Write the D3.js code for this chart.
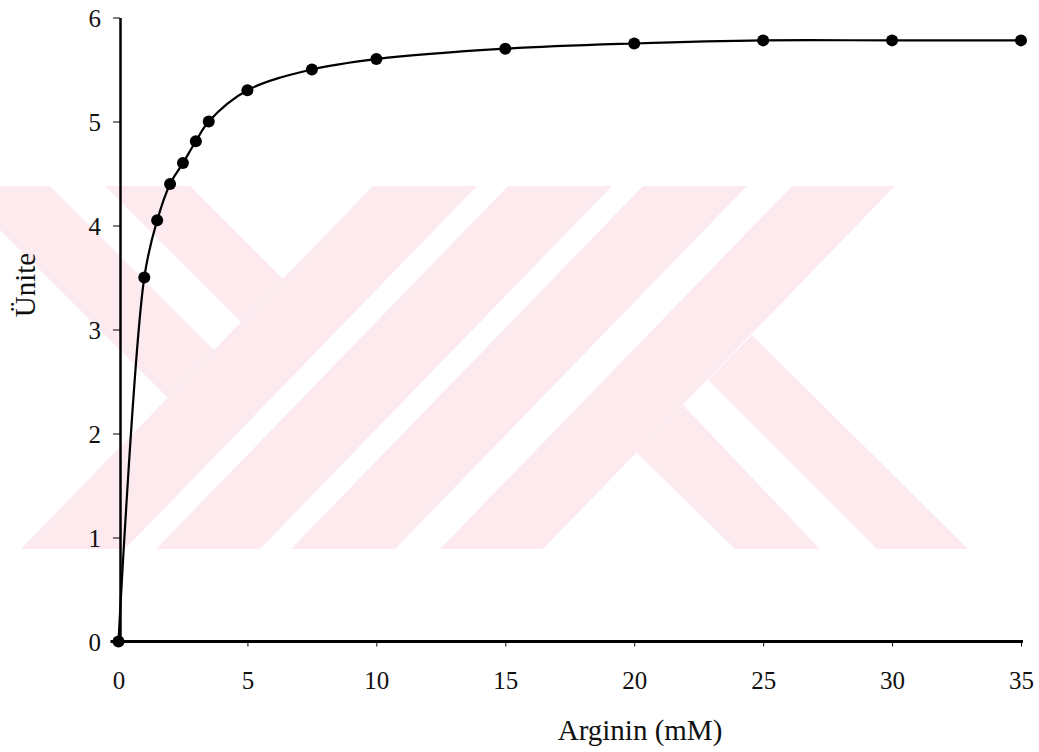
<!DOCTYPE html>
<html>
<head>
<meta charset="utf-8">
<script src="https://cdn.jsdelivr.net/npm/d3@7"></script>
<style>
  body { margin: 0; background: #fff; }
  svg { display: block; }
  .axis text { font-family: "Liberation Serif", "Times New Roman", serif; font-size: 25px; fill: #111; }
  .title { font-family: "Liberation Serif", "Times New Roman", serif; font-size: 29px; fill: #111; }
</style>
</head>
<body>
<div id="plot"></div>
<script>
// data
var arginin = [0, 1, 1.5, 2, 2.5, 3, 3.5, 5, 7.5, 10, 15, 20, 25, 30, 35];
var unite   = [0, 3.5, 4.05, 4.4, 4.6, 4.81, 5.0, 5.3, 5.5, 5.6, 5.7, 5.75, 5.78, 5.78, 5.78];
var xTicks = [0, 5, 10, 15, 20, 25, 30, 35];
var yTicks = [0, 1, 2, 3, 4, 5, 6];

// faint background stamp of the scan (decoration only)
var watermark = [
  [[373,186],[477,186],[125,549],[21,549]],
  [[508,186],[612,186],[260,549],[156,549]],
  [[643,186],[747,186],[395,549],[291,549]],
  [[792,186],[895,186],[543,549],[440,549]],
  [[-44,186],[50,186],[214,350],[168,398]],
  [[105,186],[190,186],[283,279],[241,322]],
  [[636,452],[683,405],[820,549],[735,549]],
  [[708,380],[752,335],[968,549],[877,549]]
];

var width = 1039, height = 752;

var svg = d3.select('#plot')
    .append('svg')
    .attr('width', width)
    .attr('height', height);

svg.append('g')
    .selectAll('polygon')
    .data(watermark)
    .enter()
    .append('polygon')
    .attr('points', function(d){ return d.map(function(p){ return p.join(','); }).join(' '); })
    .attr('fill', '#fceaee');

var x = d3.scaleLinear().domain([0, 35]).range([118.5, 1021]);
var y = d3.scaleLinear().domain([0, 6]).range([641.5, 17.5]);

// x axis
var xAxis = svg.append('g')
    .attr('class', 'axis')
    .attr('transform', 'translate(0,' + y(0) + ')')
    .call(d3.axisBottom(x).tickValues(xTicks).tickFormat(d3.format('d')).tickSize(5).tickSizeOuter(0));
xAxis.select('.domain').attr('d', 'M' + (x(0) - 8) + ',0H' + (x(35) + 2)).attr('stroke', '#000').attr('stroke-width', 3);
xAxis.selectAll('.tick line').attr('stroke', '#000').attr('stroke-width', 1);
xAxis.selectAll('.tick text').attr('dy', '0.35em').attr('y', 39);

// y axis
var yAxis = svg.append('g')
    .attr('class', 'axis')
    .attr('transform', 'translate(120,0)')
    .call(d3.axisLeft(y).tickValues(yTicks).tickFormat(d3.format('d')).tickSize(7).tickSizeOuter(0).tickPadding(12));
yAxis.select('.domain').attr('stroke', '#000').attr('stroke-width', 2.5);
yAxis.selectAll('.tick line').attr('stroke', '#000').attr('stroke-width', 1);
yAxis.selectAll('.tick text').attr('dy', '0.34em');

// curve
var pts = arginin.map(function(d, i){ return [d, unite[i]]; });

var line = d3.line()
    .x(function(d){ return x(d[0]); })
    .y(function(d){ return y(d[1]); })
    .curve(d3.curveCatmullRom.alpha(0.5));

svg.append('path')
    .datum(pts)
    .attr('d', line)
    .attr('fill', 'none')
    .attr('stroke', '#000')
    .attr('stroke-width', 2.2);

svg.selectAll('.node')
    .data(pts)
    .enter()
    .append('circle')
    .attr('class', 'node')
    .attr('cx', function(d){ return x(d[0]); })
    .attr('cy', function(d){ return y(d[1]); })
    .attr('r', 6)
    .attr('fill', '#000');

// titles
svg.append('text')
    .attr('class', 'title')
    .attr('x', 640)
    .attr('y', 740)
    .attr('text-anchor', 'middle')
    .text('Arginin (mM)');

svg.append('text')
    .attr('class', 'title')
    .attr('transform', 'translate(35,285) rotate(-90)')
    .attr('text-anchor', 'middle')
    .text('Ünite');
</script>
</body>
</html>
